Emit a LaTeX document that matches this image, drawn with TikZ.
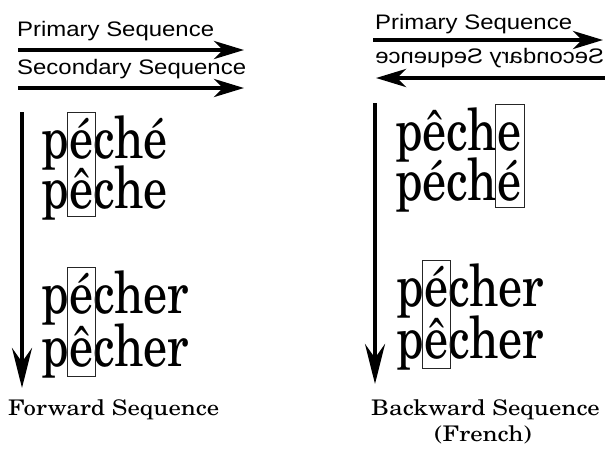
\documentclass[tikz,border=0pt]{standalone}
\usepackage{fontspec}
\usepackage{graphicx}
\usetikzlibrary{arrows.meta}
\newfontfamily\seqsans{Liberation Sans}
\newfontfamily\schola{texgyreschola-regular.otf}
% horizontal stretching / condensing of text
\newcommand\widen[1]{\scalebox{1.14}[1]{#1}}
\newcommand\mirrorwide[1]{\scalebox{-1.14}[1]{#1}}
\newcommand\condense[1]{\scalebox{0.83}[1]{#1}}
\newcommand\capwide[1]{\scalebox{1.15}[1]{#1}}
% one word split in three pieces: before, the boxed letter, after
\newcommand\wordrow[6]{%
  \node[wordtxt] (#1-a) at (#2,#3) {\condense{#4}};
  \node[wordtxt] (#1-b) at (#1-a.base east) {\condense{#5}};
  \node[wordtxt] (#1-c) at (#1-b.base east) {\condense{#6}};
}
\begin{document}
\begin{tikzpicture}[x=1pt,y=-1pt,
  seqlabel/.style={font=\seqsans\fontsize{21}{21}\selectfont, inner sep=0pt, anchor=base west},
  wordtxt/.style={font=\schola\fontsize{58}{58}\selectfont, inner sep=0pt, anchor=base west},
  caption/.style={inner sep=0pt, font=\schola\fontsize{21.5}{21.5}\selectfont},
  hseq/.style={line width=4.5pt, -{Stealth[length=30pt,width=18pt,inset=9pt]}},
  vseq/.style={line width=4.5pt, -{Stealth[length=40pt,width=20pt,inset=14pt]}},
  letterbox/.style={draw=black!85, line width=0.8pt}
]
\path[use as bounding box, fill=white] (0,0) rectangle (605,459);

% ---------------- forward sequence ----------------
\node[seqlabel] (fprim) at (17,36) {\widen{Primary Sequence}};
\node[seqlabel] (fsec) at (17,74) {\widen{Secondary Sequence}};
\coordinate (fp0) at (18,50);  \coordinate (fp1) at (244,50);
\coordinate (fs0) at (18,88);  \coordinate (fs1) at (244,88);
\draw[hseq] (fp0) -- (fp1);
\draw[hseq] (fs0) -- (fs1);

\coordinate (fv0) at (22,112); \coordinate (fv1) at (22,388);
\draw[vseq] (fv0) -- (fv1);

\wordrow{L1}{41}{158}{p}{é}{ché}
\wordrow{L2}{41}{208}{p}{ê}{che}
\wordrow{L3}{41}{313}{p}{é}{cher}
\wordrow{L4}{41}{366}{p}{ê}{cher}
\draw[letterbox] ([shift={(-2,-46)}]L1-b.base west) rectangle ([shift={(2,8)}]L2-b.base east);
\draw[letterbox] ([shift={(-2,-46)}]L3-b.base west) rectangle ([shift={(2,10)}]L4-b.base east);

\node[caption, anchor=base west] (fwd) at (8,415) {\capwide{Forward Sequence}};

% ---------------- backward sequence ----------------
\node[seqlabel] (bprim) at (375,29.5) {\widen{Primary Sequence}};
\node[seqlabel] (bsec) at (375,63) {\mirrorwide{Secondary Sequence}};
\coordinate (bp0) at (373,40);  \coordinate (bp1) at (603,40);
\coordinate (bs0) at (610,78);  \coordinate (bs1) at (376,78);
\draw[hseq] (bp0) -- (bp1);
\draw[hseq] (bs0) -- (bs1);

\coordinate (bv0) at (375,103); \coordinate (bv1) at (375,384);
\draw[vseq] (bv0) -- (bv1);

\wordrow{R1}{395}{150}{pêch}{e}{}
\wordrow{R2}{395}{200}{péch}{é}{}
\wordrow{R3}{396}{306}{p}{é}{cher}
\wordrow{R4}{396}{358}{p}{ê}{cher}
\draw[letterbox] ([shift={(-2,-46)}]R1-b.base west) rectangle ([shift={(3,7)}]R2-b.base east);
\draw[letterbox] ([shift={(-2,-46)}]R3-b.base west) rectangle ([shift={(2,10)}]R4-b.base east);

\node[caption, anchor=base west] (bwd) at (371,415) {\capwide{Backward Sequence}};
\node[caption, anchor=base] (french) at (483,441) {\capwide{(French)}};
\end{tikzpicture}
\end{document}
